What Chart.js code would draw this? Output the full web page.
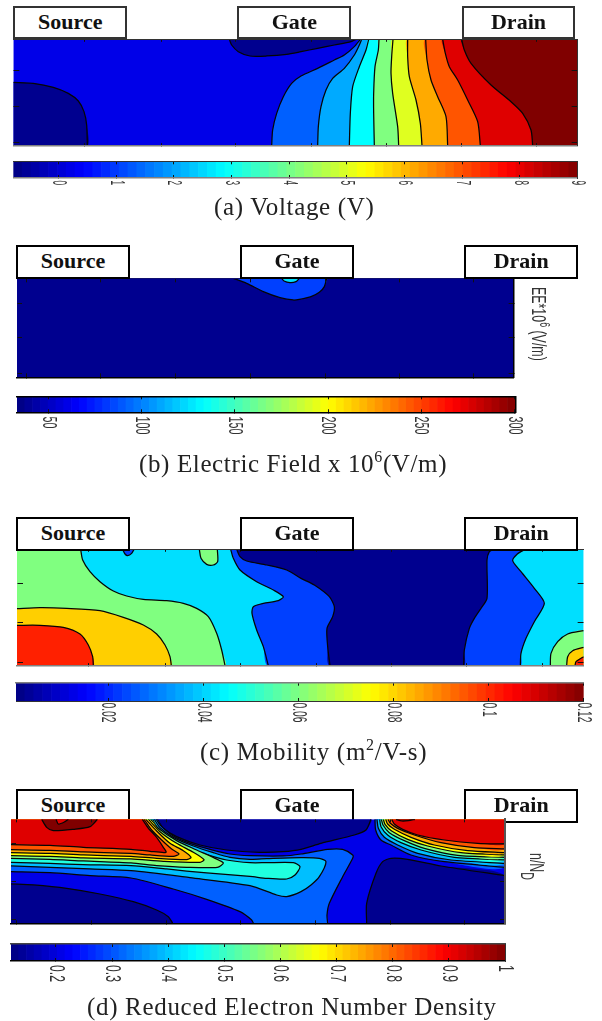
<!DOCTYPE html>
<html><head><meta charset="utf-8">
<style>
html,body{margin:0;padding:0;background:#fff;width:602px;height:1021px;overflow:hidden}
canvas{position:absolute;left:0;top:0;pointer-events:none}
.box{position:absolute;box-sizing:border-box;border:2px solid #111;background:#fff;text-align:center;font:bold 22px "Liberation Serif",serif;color:#111}
.cap{position:absolute;white-space:nowrap;font:25px "Liberation Serif",serif;color:#222;line-height:28px}
.cap sup{font-size:16px;line-height:0;vertical-align:10px}
.side{position:absolute;white-space:nowrap;font:21px "Liberation Sans",sans-serif;color:#333;line-height:22px;transform-origin:0 0}
.side sup{font-size:15px;line-height:0;vertical-align:8px}
.side sub{font-size:18px;line-height:0;vertical-align:-9px}
</style></head><body>
<script src="https://cdn.jsdelivr.net/npm/chart.js@4/dist/chart.umd.js"></script>
<script>
// ---------- (a) Voltage: contour lines in axis units ----------
const vNavyLeft=[[40,247],[100,250],[160,262],[205,280],[235,303],[252,335],[260,375],[262,437]];
const vNavyTop=[[688,118],[695,135],[715,155],[750,168],[800,168],[860,163],[903,155],[953,145],[1003,135],[1053,125],[1068,118]];
const vL1=[[815,437],[818,390],[830,340],[850,290],[875,250],[903,228],[953,205],[1003,180],[1033,165],[1063,140],[1081,118]];
const vL2=[[953,437],[955,380],[963,320],[978,270],[998,235],[1033,205],[1063,165],[1078,135],[1085,118]];
const vL3=[[1048,437],[1051,340],[1058,260],[1078,200],[1098,150],[1106,118]];
const vL4=[[1123,437],[1121,340],[1121,280],[1125,200],[1135,150],[1137,118]];
const vL5=[[1196,437],[1193,380],[1178,280],[1173,220],[1175,170],[1179,118]];
const vL6=[[1266,437],[1261,370],[1248,300],[1228,230],[1223,170],[1223,118]];
const vL7=[[1343,437],[1338,350],[1313,290],[1293,240],[1281,180],[1277,118]];
const vL8=[[1441,437],[1433,365],[1403,300],[1373,240],[1348,200],[1336,160],[1328,118]];
const vL9=[[1598,437],[1593,390],[1568,340],[1533,305],[1473,255],[1413,190],[1393,150],[1385,118]];
const vXTicks=[255,484,708,933,1158,1383,1608];
const vYTicks=[212,319,427];
const vBarTicks=[0,1,2,3,4,5,6,7,8,9];
const vBarLabels=['0','1','2','3','4','5','6','7','8','9'];

// ---------- (b) Electric field ----------
const eBlue=[[700,130],[740,145],[790,170],[840,188],[880,195],[903,192],[933,185],[958,172],[973,155],[980,130]];
const eSpot=[[845,130],[852,138],[870,143],[888,140],[898,130]];
const eXTicks=[80,302,525,752,975,1198,1420];
const eYTicks=[205,308,415];
const eBarTicks=[50,100,150,200,250,300];
const eBarLabels=['50','100','150','200','250','300'];

// ---------- (c) Mobility ----------
const mGreen=[[242,118],[248,150],[270,185],[300,215],[340,243],[380,258],[430,268],[500,272],[550,280],[590,295],[625,320],[650,370],[665,420],[675,467]];
const mOrange=[[51,296],[120,293],[200,295],[300,302],[370,322],[430,345],[470,372],[495,405],[510,440],[514,467]];
const mRed=[[51,346],[120,346],[190,352],[240,372],[265,405],[278,440],[280,467]];
const mGreenTop=[[598,118],[603,145],[620,163],[640,165],[653,155],[652,118]];
const mBlueTop=[[368,118],[375,132],[383,137],[395,130],[402,118]];
const mBlueA=[[692,118],[700,145],[720,180],[770,215],[820,240],[850,260],[835,272],[790,280],[760,290],[756,310],[770,360],[790,410],[805,467]];
const mBlueB=[[1561,467],[1563,430],[1578,385],[1603,335],[1633,280],[1603,235],[1563,185],[1538,152],[1552,132],[1575,118]];
const mNavyA=[[710,118],[720,140],[740,153],[800,165],[860,180],[903,205],[943,225],[988,260],[1003,290],[998,320],[981,355],[983,410],[990,467]];
const mNavyB=[[1391,467],[1393,420],[1408,355],[1423,325],[1443,295],[1461,265],[1461,150],[1468,125],[1480,118]];
const mCornerGreen=[[1651,467],[1653,430],[1673,395],[1703,372],[1751,362]];
const mCornerOrange=[[1700,467],[1703,440],[1718,422],[1751,412]];
const mCornerRed=[[1725,467],[1728,455],[1751,440]];
const mXTicks=[265,495,720,948,1173,1398,1628];
const mYTicks=[220,338,458];
const mBarTicks=[0.02,0.04,0.06,0.08,0.1,0.12];
const mBarLabels=['0.02','0.04','0.06','0.08','0.1','0.12'];

// ---------- (d) Reduced electron number density ----------
const nNavyLeft=[[33,312],[100,315],[200,325],[300,342],[400,365],[470,390],[505,410],[518,430]];
const nNavyTop=[[472,118],[490,145],[530,170],[600,195],[680,210],[780,217],[850,215],[903,208],[963,190],[1063,165],[1098,150],[1113,118]];
const nNavyRight=[[1100,430],[1100,370],[1128,280],[1148,245],[1173,235],[1223,238],[1323,258],[1515,287]];
const nL8a=[[33,275],[150,278],[270,287],[393,294],[520,327],[620,358],[720,395],[755,420],[760,430]];
const nL8b=[[983,430],[981,405],[988,370],[1028,290],[1058,235],[1058,225],[1028,208],[983,208],[903,222],[850,228],[750,227],[690,222],[630,208],[570,190],[520,168],[485,140],[468,118]];
const nL8R=[[1125,118],[1127,150],[1143,180],[1173,195],[1233,225],[1333,245],[1515,262]];
const nL7=[[33,258],[150,262],[270,267],[393,272],[570,293],[750,317],[830,345],[860,350],[903,335],[933,315],[958,290],[978,245],[958,235],[903,233],[800,236],[750,238],[690,232],[640,218],[580,198],[520,172],[480,143],[463,118]];
const nL7R=[[1131,118],[1135,145],[1153,172],[1193,195],[1253,220],[1353,240],[1515,250]];
const nL6=[[33,247],[150,250],[250,254],[393,257],[500,267],[620,279],[750,289],[800,295],[860,297],[885,285],[900,260],[880,248],[800,248],[750,248],[680,240],[620,224],[560,202],[510,175],[472,143],[458,118]];
const nL6R=[[1139,118],[1143,140],[1163,165],[1203,188],[1263,210],[1363,232],[1515,240]];
const nL5=[[33,235],[150,238],[250,243],[393,249],[470,257],[560,262],[652,262],[670,249],[645,235],[590,210],[530,182],[475,145],[452,118]];
const nL5R=[[1144,118],[1149,135],[1168,158],[1213,182],[1273,205],[1373,226],[1515,232]];
const nL4=[[33,227],[150,229],[250,234],[393,237],[490,244],[600,247],[612,239],[580,217],[530,190],[480,155],[445,118]];
const nL4R=[[1150,118],[1155,133],[1175,153],[1223,178],[1283,198],[1383,218],[1515,225]];
const nL3=[[33,218],[150,220],[250,225],[393,229],[470,235],[560,239],[573,232],[550,212],[510,190],[470,153],[437,118]];
const nL3R=[[1157,118],[1163,132],[1183,148],[1233,172],[1303,195],[1403,212],[1515,218]];
const nL2=[[33,209],[150,211],[250,216],[393,220],[450,225],[520,229],[537,222],[515,207],[485,180],[455,150],[432,118]];
const nL2R=[[1164,118],[1171,130],[1193,145],[1243,165],[1323,188],[1423,203],[1515,207]];
const nL1=[[33,194],[150,196],[250,202],[393,208],[450,214],[498,217],[490,202],[470,172],[447,147],[427,118]];
const nL1R=[[1175,118],[1183,132],[1208,148],[1253,165],[1333,180],[1433,190],[1515,192]];
const nPeakLeft=[[125,118],[140,142],[160,152],[220,148],[270,140],[292,118]];
const nPeakNotch=[[168,118],[175,132],[195,125],[205,118]];
const nPeakRight=[[1188,118],[1205,123],[1225,122],[1245,118]];
const nXTicks=[50,275,498,722,945,1170,1393];
const nYTicks=[190,305,420];
const nBarTicks=[0.2,0.3,0.4,0.5,0.6,0.7,0.8,0.9,1];
const nBarLabels=['0.2','0.3','0.4','0.5','0.6','0.7','0.8','0.9','1'];

const categoriesBox=['Source','Gate','Drain'];
const NAVY='#00008f';

function jet(i,n){const t=(i+.5)/n,c=v=>Math.round(255*Math.max(0,Math.min(1,1.5-Math.abs(4*t-v))));
  return `rgb(${c(3)},${c(2)},${c(1)})`;}
const jet64=Array.from({length:64},(_,i)=>jet(i,64));
const W=602,H=1021;

function addCanvas(){const c=document.createElement('canvas');c.width=W;c.height=H;c.style.width=W+'px';c.style.height=H+'px';document.body.appendChild(c);return c;}
const zero=h=>s=>{if(h)s.height=0;else s.width=0;};
function edgeAxis(axis,position,min,max,ticks,len,border,reverse){
  return {type:'linear',axis,position,min,max,reverse:!!reverse,display:true,offset:false,
    afterBuildTicks:s=>{s.ticks=ticks.map(v=>({value:v}));},
    afterFit:zero(axis==='x'),
    ticks:{display:false,autoSkip:false},
    grid:{offset:false,drawOnChartArea:false,drawTicks:true,tickLength:-len,tickColor:border.tick||'#111',tickWidth:1,z:2},
    border:{display:true,color:border.color,width:border.width,z:2}};
}
function contour(p){
  const ds=[];const add=(pts,o)=>ds.push(Object.assign({data:pts.map(q=>({x:q[0],y:q[1]})),pointRadius:0,tension:0.25,spanGaps:true},o));
  p.layers.forEach(l=>{
    const poly=[].concat(...(l.lines||[]),l.close||[]);
    add(poly.concat([poly[0]]),{backgroundColor:l.color,borderWidth:0,fill:'shape',tension:(l.lines?0.25:0)});
    (l.lines||[]).forEach(a=>add(a,{borderColor:'#050505',borderWidth:1.25,fill:false,borderJoinStyle:'round'}));
  });
  ds.forEach((d,i)=>d.order=ds.length-i);
  const [x0,x1]=p.xr,[y0,y1]=p.yr,b=p.border;
  new Chart(addCanvas(),{type:'line',data:{datasets:ds},options:{responsive:false,animation:false,
    layout:{padding:{left:p.px[0],right:W-p.px[1],top:p.py[0],bottom:H-p.py[1]}},
    plugins:{legend:{display:false},tooltip:{enabled:false}},
    scales:{
      x:edgeAxis('x','bottom',x0,x1,p.xt,p.tickX,b.bottom),
      xTop:edgeAxis('x','top',x0,x1,p.xt,p.tickX,b.top),
      y:edgeAxis('y','left',y0,y1,p.yt,p.tickY,b.left,true),
      yRight:edgeAxis('y','right',y0,y1,p.yt,p.tickY,b.right,true)
    }}});
}
function colorbar(p){
  const labelPlugin={id:'tickText',afterDraw(ch){
    const s=ch.scales.xv,ctx=ch.ctx;ctx.save();ctx.fillStyle='#333';ctx.textAlign='left';ctx.textBaseline='middle';
    ctx.font=p.font+'px "Liberation Sans",sans-serif';
    p.ticks.forEach((v,i)=>{ctx.save();ctx.translate(s.getPixelForValue(v),p.labelTop);ctx.rotate(Math.PI/2);ctx.scale(p.sx,1);ctx.fillText(p.labels[i],0,0);ctx.restore();});
    ctx.restore();}};
  const b=p.border,lim=[p.min,p.max];
  new Chart(addCanvas(),{type:'bar',data:{labels:jet64.map((_,i)=>i),datasets:[{data:jet64.map(()=>1),backgroundColor:jet64,borderWidth:0,barPercentage:1,categoryPercentage:1}]},
    plugins:[labelPlugin],
    options:{responsive:false,animation:false,
    layout:{padding:{left:p.px[0],right:W-p.px[1],top:p.py[0],bottom:H-p.py[1]}},
    plugins:{legend:{display:false},tooltip:{enabled:false}},
    scales:{
      x:{type:'category',display:false},
      y:{type:'linear',display:false,min:0,max:1},
      xv:edgeAxis('x','bottom',lim[0],lim[1],p.ticks,3,b.bottom),
      xt:edgeAxis('x','top',lim[0],lim[1],p.ticks,3,b.top),
      yl:edgeAxis('y','left',0,1,[],0,b.left),
      yr:edgeAxis('y','right',0,1,[],0,b.right)
    }}});
}
function boxes(top,bottom,xs,color){
  categoriesBox.forEach((t,i)=>{const d=document.createElement('div');d.className='box';d.textContent=t;
    const h=bottom-top;d.style.cssText+=`left:${xs[i][0]}px;width:${xs[i][1]-xs[i][0]}px;top:${top}px;height:${h}px;line-height:${h-6}px;border-color:${color}`;
    document.body.appendChild(d);});
}
function caption(html,left,baseline,ls){const d=document.createElement('div');d.className='cap';d.innerHTML=html;
  d.style.cssText+=`left:${left}px;top:${baseline-22.5}px;letter-spacing:${ls}px`;document.body.appendChild(d);}
function side(html,left,top,sx){const d=document.createElement('div');d.className='side';d.innerHTML=html;
  d.style.cssText+=`left:${left}px;top:${top}px;transform:rotate(90deg) scale(${sx},1)`;document.body.appendChild(d);}

const thin={color:'#333',width:1},grey={color:'#808080',width:1.5},black={color:'#000',width:1.5},none={color:'rgba(0,0,0,0)',width:0.01};

// (a)
contour({px:[13.33,577.67],py:[39.33,145.67],xr:[40,1733],yr:[118,437],xt:vXTicks,yt:vYTicks,tickX:2.5,tickY:6,
  border:{bottom:grey,top:thin,left:none,right:thin},
  layers:[
   {color:'#0000e8',close:[[40,118],[1733,118],[1733,437],[40,437]]},
   {color:NAVY,lines:[vNavyLeft],close:[[40,437]]},
   {color:NAVY,lines:[vNavyTop]},
   {color:'#0060ff',lines:[vL1],close:[[1733,118],[1733,437]]},
   {color:'#00aaff',lines:[vL2],close:[[1733,118],[1733,437]]},
   {color:'#00ffff',lines:[vL3],close:[[1733,118],[1733,437]]},
   {color:'#80ff80',lines:[vL4],close:[[1733,118],[1733,437]]},
   {color:'#dfff20',lines:[vL5],close:[[1733,118],[1733,437]]},
   {color:'#ffaa00',lines:[vL6],close:[[1733,118],[1733,437]]},
   {color:'#ff5500',lines:[vL7],close:[[1733,118],[1733,437]]},
   {color:'#df0000',lines:[vL8],close:[[1733,118],[1733,437]]},
   {color:'#800000',lines:[vL9],close:[[1733,118],[1733,437]]}
  ]});
colorbar({px:[13.33,577.67],py:[161.3,178],min:-0.78,max:9,ticks:vBarTicks,labels:vBarLabels,font:19.5,sx:0.42,labelTop:180.5,
  border:{top:thin,bottom:grey,left:none,right:thin}});
boxes(6,39.3,[[13.3,127.3],[237.3,351.3],[461.7,575.3]],'#333');
caption('(a) Voltage (V)',214,215,0.67);

// (b)
contour({px:[17,513.67],py:[278.33,377.33],xr:[51,1541],yr:[130,427],xt:eXTicks,yt:eYTicks,tickX:4,tickY:5,
  border:{bottom:black,top:{color:'#101070',width:1},left:none,right:black},
  layers:[
   {color:NAVY,close:[[51,130],[1541,130],[1541,427],[51,427]]},
   {color:'#0040ff',lines:[eBlue]},
   {color:'#00dfff',lines:[eSpot]}
  ]});
colorbar({px:[17,515.3],py:[396.3,412.3],min:33.1,max:300.5,ticks:eBarTicks,labels:eBarLabels,font:21,sx:0.51,labelTop:416.5,
  border:{top:black,bottom:black,left:none,right:black}});
boxes(245,278.7,[[16,130],[240,354],[464,578.3]],'#000');
caption('(b) Electric Field x 10<sup>6</sup>(V/m)',139,472,0.63);
side('EE*10<sup>6</sup> (V/m)',550,287,0.59);

// (c)
contour({px:[17,583.67],py:[549.33,665.67],xr:[51,1751],yr:[118,467],xt:mXTicks,yt:mYTicks,tickX:2.5,tickY:6,
  border:{bottom:grey,top:thin,left:none,right:none},
  layers:[
   {color:'#00dfff',close:[[51,118],[1751,118],[1751,467],[51,467]]},
   {color:'#80ff80',lines:[mGreen],close:[[51,467],[51,118]]},
   {color:'#ffcf00',lines:[mOrange],close:[[51,467]]},
   {color:'#ff2000',lines:[mRed],close:[[51,467]]},
   {color:'#80ff80',lines:[mGreenTop]},
   {color:'#0040ff',lines:[mBlueTop]},
   {color:'#0040ff',lines:[mBlueA,mBlueB]},
   {color:NAVY,lines:[mNavyA,mNavyB]},
   {color:'#80ff80',lines:[mCornerGreen],close:[[1751,467]]},
   {color:'#ffcf00',lines:[mCornerOrange],close:[[1751,467]]},
   {color:'#ff2000',lines:[mCornerRed],close:[[1751,467]]}
  ]});
colorbar({px:[16,583.67],py:[682.7,701],min:0.0006,max:0.12,ticks:mBarTicks,labels:mBarLabels,font:21,sx:0.49,labelTop:702.5,
  border:{top:grey,bottom:thin,left:none,right:none}});
boxes(517,550.7,[[16,130],[240,354],[464,578.3]],'#000');
caption('(c) Mobility (m<sup>2</sup>/V-s)',200,760,0.7);

// (d): plot lies over the boxes here
boxes(789.3,822.7,[[16,130],[240,354],[464,578.3]],'#000');
contour({px:[11,505],py:[819.33,923.33],xr:[33,1515],yr:[118,430],xt:nXTicks,yt:nYTicks,tickX:3,tickY:5,
  border:{bottom:black,top:none,left:none,right:{color:'#555',width:2}},
  layers:[
   {color:'#0000e8',close:[[33,118],[1515,118],[1515,430],[33,430]]},
   {color:NAVY,lines:[nNavyLeft],close:[[33,430]]},
   {color:NAVY,lines:[nNavyTop]},
   {color:NAVY,lines:[nNavyRight],close:[[1515,430]]},
   {color:'#0060ff',lines:[nL8a,nL8b],close:[[33,118]]},
   {color:'#0060ff',lines:[nL8R],close:[[1515,118]]},
   {color:'#00bfff',lines:[nL7],close:[[33,118]]},
   {color:'#00bfff',lines:[nL7R],close:[[1515,118]]},
   {color:'#20ffdf',lines:[nL6],close:[[33,118]]},
   {color:'#20ffdf',lines:[nL6R],close:[[1515,118]]},
   {color:'#80ff80',lines:[nL5],close:[[33,118]]},
   {color:'#80ff80',lines:[nL5R],close:[[1515,118]]},
   {color:'#ffff00',lines:[nL4],close:[[33,118]]},
   {color:'#ffff00',lines:[nL4R],close:[[1515,118]]},
   {color:'#ffaa00',lines:[nL3],close:[[33,118]]},
   {color:'#ffaa00',lines:[nL3R],close:[[1515,118]]},
   {color:'#ff5500',lines:[nL2],close:[[33,118]]},
   {color:'#ff5500',lines:[nL2R],close:[[1515,118]]},
   {color:'#df0000',lines:[nL1],close:[[33,118]]},
   {color:'#df0000',lines:[nL1R],close:[[1515,118]]},
   {color:'#800000',lines:[nPeakLeft]},
   {color:'#df0000',lines:[nPeakNotch]},
   {color:'#800000',lines:[nPeakRight]}
  ]});
colorbar({px:[11,505],py:[944,961],min:0.12,max:1,ticks:nBarTicks,labels:nBarLabels,font:22,sx:0.555,labelTop:965,
  border:{top:{color:'#444',width:1.5},bottom:black,left:none,right:thin}});
caption('(d) Reduced Electron Number Density',87,1015,0.68);
side('n/N<sub>D</sub>',548,853,0.59);
</script>
</body></html>
